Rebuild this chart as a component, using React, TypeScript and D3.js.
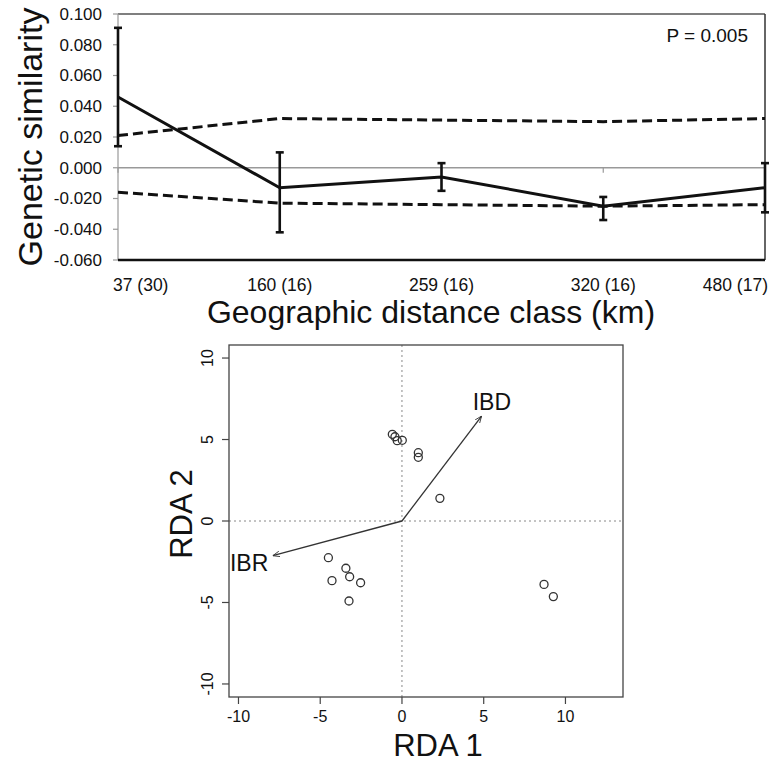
import React from "react";
import { scaleLinear, scalePoint, line } from "d3";

// ---- top panel data: genetic similarity by distance class
const distClasses = ["37 (30)", "160 (16)", "259 (16)", "320 (16)", "480 (17)"];
const similarity = [0.046, -0.013, -0.006, -0.025, -0.013];
const errUpper = [0.091, 0.010, 0.003, -0.019, 0.003];
const errLower = [0.014, -0.042, -0.015, -0.034, -0.029];
const ciUpper = [0.021, 0.032, 0.031, 0.030, 0.032];
const ciLower = [-0.016, -0.023, -0.024, -0.025, -0.024];
const simTicks = [-0.06, -0.04, -0.02, 0, 0.02, 0.04, 0.06, 0.08, 0.1];

// ---- bottom panel data: RDA site scores + biplot arrows
const rda1 = [-0.59, -0.43, -0.29, 0.02, 1.0, 1.0, 2.32, -4.5, -3.43, -4.28, -3.2, -2.53, -3.24, 8.69, 9.26];
const rda2 = [5.32, 5.17, 4.93, 4.95, 4.19, 3.91, 1.39, -2.25, -2.9, -3.66, -3.42, -3.79, -4.91, -3.89, -4.64];
const arrowNames = ["IBD", "IBR"];
const arrowX = [4.87, -7.9];
const arrowY = [6.44, -2.13];
const arrowLabelX = [5.5, -9.35];
const arrowLabelY = [7.3, -2.58];
const rdaTicks = [-10, -5, 0, 5, 10];

const font = "'Liberation Sans', Arial, sans-serif";

const TopChart = () => {
  const x = scalePoint<string>().domain(distClasses).range([118, 765]);
  const y = scaleLinear().domain([-0.06, 0.1]).range([260, 14]);
  const left = 118, right = 765, top = 14, bottom = 260;

  const pts = distClasses.map((c, i) => ({ c, i }));
  const mk = (vals: number[]) =>
    line<{ c: string; i: number }>()
      .x((d) => x(d.c)!)
      .y((d) => y(vals[d.i]))(pts)!;

  return (
    <g fontFamily={font}>
      {/* frame */}
      <line x1={left} x2={right} y1={top} y2={top} stroke="#555" strokeWidth={1.5} />
      <line x1={right} x2={right} y1={top} y2={bottom} stroke="#333" strokeWidth={1.5} />
      <line x1={left} x2={left} y1={top} y2={bottom} stroke="#999" strokeWidth={1.2} />
      {simTicks.map((t) => (
        <g key={t}>
          <line x1={left - 5} x2={left} y1={y(t)} y2={y(t)} stroke="#999" strokeWidth={1.2} />
          <text x={102} y={y(t)} dy="0.35em" textAnchor="end" fontSize={17} fill="#111">
            {t.toFixed(3)}
          </text>
        </g>
      ))}
      {/* zero line */}
      <line x1={left} x2={right} y1={y(0)} y2={y(0)} stroke="#999" strokeWidth={1.3} />
      {distClasses.map((c) => (
        <line key={c} x1={x(c)} x2={x(c)} y1={y(0)} y2={y(0) + 5} stroke="#999" strokeWidth={1.2} />
      ))}
      <line x1={left} x2={right} y1={bottom} y2={bottom} stroke="#111" strokeWidth={2.5} />

      {/* confidence envelope */}
      <path d={mk(ciUpper)} fill="none" stroke="#111" strokeWidth={3} strokeDasharray="10 5" />
      <path d={mk(ciLower)} fill="none" stroke="#111" strokeWidth={3} strokeDasharray="10 5" />
      {/* observed */}
      <path d={mk(similarity)} fill="none" stroke="#111" strokeWidth={3} />
      {distClasses.map((c, i) => (
        <g key={c} stroke="#111" strokeWidth={2.6}>
          <line x1={x(c)} x2={x(c)} y1={y(errUpper[i])} y2={y(errLower[i])} />
          <line x1={x(c)! - 4} x2={x(c)! + 4} y1={y(errUpper[i])} y2={y(errUpper[i])} />
          <line x1={x(c)! - 4} x2={x(c)! + 4} y1={y(errLower[i])} y2={y(errLower[i])} />
        </g>
      ))}

      {distClasses.map((c, i) => (
        <text
          key={c}
          x={i === 0 ? 113 : i === distClasses.length - 1 ? 768 : x(c)}
          y={291}
          textAnchor={i === 0 ? "start" : i === distClasses.length - 1 ? "end" : "middle"}
          fontSize={17.5}
          fill="#111"
        >
          {c}
        </text>
      ))}
      <text x={748} y={42} textAnchor="end" fontSize={19} fill="#111">
        P = 0.005
      </text>
      <text transform="translate(42,137) rotate(-90)" textAnchor="middle" fontSize={34} fill="#111">
        Genetic similarity
      </text>
      <text x={431} y={323} textAnchor="middle" fontSize={32} fill="#111">
        Geographic distance class (km)
      </text>
    </g>
  );
};

const BottomChart = () => {
  const x = scaleLinear().domain([-10.58, 13.52]).range([229, 623]);
  const y = scaleLinear().domain([-10.8, 10.8]).range([697, 345]);
  const [x0, x1] = x.range();
  const [y0, y1] = y.range();

  return (
    <g fontFamily={font}>
      <defs>
        <marker id="ah" viewBox="0 0 10 10" refX={10} refY={5} markerWidth={7} markerHeight={7} orient="auto" markerUnits="userSpaceOnUse">
          <path d="M0,1 L10,5 L0,9" fill="none" stroke="#333" strokeWidth={1.2} />
        </marker>
      </defs>
      {/* origin guides */}
      <line x1={x(0)} x2={x(0)} y1={y0} y2={y1} stroke="#888" strokeWidth={1} strokeDasharray="2 3" />
      <line x1={x0} x2={x1} y1={y(0)} y2={y(0)} stroke="#888" strokeWidth={1} strokeDasharray="2 3" />

      {rda1.map((v, i) => (
        <circle key={i} cx={x(v)} cy={y(rda2[i])} r={4} fill="none" stroke="#333" strokeWidth={1.3} />
      ))}

      {arrowNames.map((n, i) => (
        <g key={n}>
          <line
            x1={x(0)} y1={y(0)} x2={x(arrowX[i])} y2={y(arrowY[i])}
            stroke="#333" strokeWidth={1.3} markerEnd="url(#ah)"
          />
          <text x={x(arrowLabelX[i])} y={y(arrowLabelY[i])} dy="0.35em" textAnchor="middle" fontSize={23} fill="#111">
            {n}
          </text>
        </g>
      ))}

      <rect x={x0} y={y1} width={x1 - x0} height={y0 - y1} fill="none" stroke="#444" strokeWidth={1.3} />

      {rdaTicks.map((t) => (
        <g key={"x" + t}>
          <line x1={x(t)} x2={x(t)} y1={y0} y2={y0 + 7} stroke="#444" strokeWidth={1.2} />
          <text x={x(t)} y={722} textAnchor="middle" fontSize={16} fill="#111">
            {t}
          </text>
        </g>
      ))}
      {rdaTicks.map((t) => (
        <g key={"y" + t}>
          <line x1={x0 - 7} x2={x0} y1={y(t)} y2={y(t)} stroke="#444" strokeWidth={1.2} />
          <text transform={`translate(213,${y(t)}) rotate(-90)`} textAnchor="middle" fontSize={16} fill="#111">
            {t}
          </text>
        </g>
      ))}

      <text x={438} y={756} textAnchor="middle" fontSize={31} fill="#111">
        RDA 1
      </text>
      <text transform="translate(192,514) rotate(-90)" textAnchor="middle" fontSize={31} fill="#111">
        RDA 2
      </text>
    </g>
  );
};

export default function App() {
  return (
    <svg
      width={781}
      height={763}
      style={{ position: "absolute", left: 0, top: 0, background: "#fff" }}
    >
      <rect width={781} height={763} fill="#fff" />
      <TopChart />
      <BottomChart />
    </svg>
  );
}
